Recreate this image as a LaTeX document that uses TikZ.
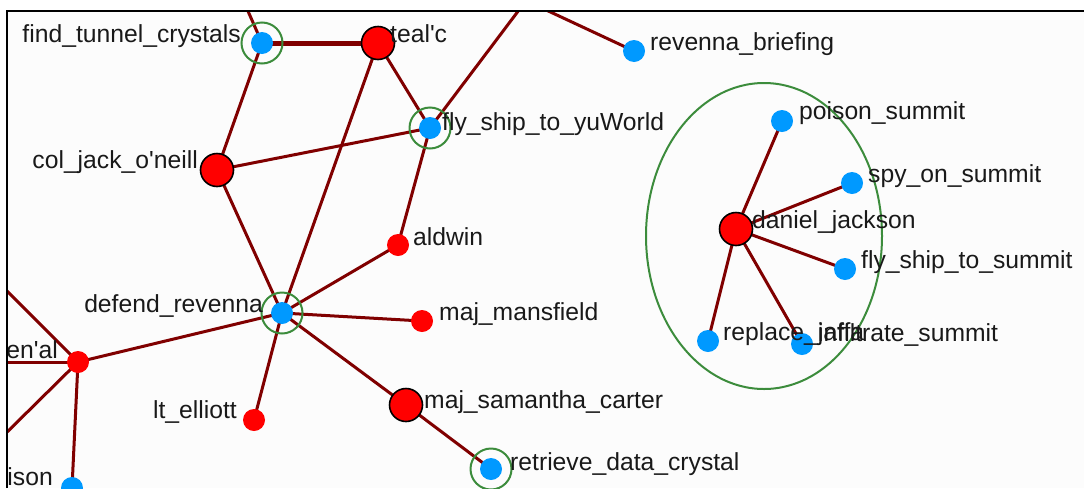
\documentclass[tikz,border=0pt]{standalone}
\usepackage{fontspec}
\setmainfont{Liberation Sans}
\usetikzlibrary{shapes.geometric,backgrounds}
\definecolor{edgecol}{RGB}{128,0,0}
\definecolor{nodeblue}{RGB}{0,153,255}
\definecolor{nodered}{RGB}{255,0,0}
\definecolor{ringgreen}{RGB}{60,140,60}
\definecolor{bgcol}{RGB}{252,252,252}
\newcommand{\q}{\textquotesingle}
\begin{document}
\begin{tikzpicture}[x=1pt,y=-1pt,
  edge/.style={draw=edgecol,line width=3pt},
  dbledge/.style={draw=edgecol,line width=5pt},
  bluenode/.style={circle,fill=nodeblue,inner sep=0pt,minimum size=22pt},
  smallred/.style={circle,fill=nodered,inner sep=0pt,minimum size=22pt},
  bigred/.style={circle,fill=nodered,draw=black,line width=1.6pt,inner sep=0pt,minimum size=33pt},
  ring/.style={circle,draw=ringgreen,line width=2pt,inner sep=0pt,minimum size=41pt},
  lbl/.style={inner sep=0pt,font=\fontsize{24.7}{26}\selectfont,text=black!90}
]
\useasboundingbox (0,0) rectangle (1084,488);
\begin{scope}
\clip (7,11) rectangle (1084,488);
% off-frame end points
\coordinate (top1) at (244,2);
\coordinate (top2) at (525,2);
\coordinate (top3) at (529,2);
\coordinate (left1) at (0,362);
\coordinate (left2) at (0,284);
\coordinate (left3) at (-2,441);
% nodes
\node[bluenode] (ftc) at (262,43) {};
\node[bigred] (teal) at (378,43) {};
\node[bluenode] (fly) at (430,128) {};
\node[bigred] (jack) at (217,170) {};
\node[smallred] (aldwin) at (398,245) {};
\node[bluenode] (defend) at (282,313) {};
\node[smallred] (mansfield) at (422,321) {};
\node[smallred] (enal) at (78,362) {};
\node[smallred] (elliott) at (254,420) {};
\node[bigred] (carter) at (406,405) {};
\node[bluenode] (retrieve) at (491,469) {};
\node[bluenode] (ison) at (72,488) {};
\node[bluenode] (rb) at (634,51) {};
\node[bluenode] (poison) at (782,121) {};
\node[bluenode] (spy) at (852,183) {};
\node[bigred] (daniel) at (736,229) {};
\node[bluenode] (flysum) at (845,269) {};
\node[bluenode] (replace) at (708,341) {};
\node[bluenode] (infil) at (802,344) {};
% selection rings
\node[ring] (ftcR) at (ftc) {};
\node[ring] (flyR) at (fly) {};
\node[ring] (defendR) at (defend) {};
\node[ring] (retrieveR) at (retrieve) {};
\node[ellipse,draw=ringgreen,line width=2pt,minimum width=236pt,minimum height=306pt,inner sep=0pt] (group) at (764,236) {};
% labels
\node[lbl,anchor=base east] (ftcL) at (241,42) {find\_tunnel\_crystals};
\node[lbl,anchor=base west] (tealL) at (390,42) {teal\q c};
\node[lbl,anchor=base west] (flyL) at (442,130) {fly\_ship\_to\_yuWorld};
\node[lbl,anchor=base east] (jackL) at (198,168) {col\_jack\_o\q neill};
\node[lbl,anchor=base west] (aldwinL) at (413,245) {aldwin};
\node[lbl,anchor=base east] (defendL) at (263,312) {defend\_revenna};
\node[lbl,anchor=base west] (mansfieldL) at (439,320) {maj\_mansfield};
\node[lbl,anchor=base east] (enalL) at (58,358) {en\q al};
\node[lbl,anchor=base east] (elliottL) at (237,418) {lt\_elliott};
\node[lbl,anchor=base west] (carterL) at (424,408) {maj\_samantha\_carter};
\node[lbl,anchor=base west] (retrieveL) at (510,470) {retrieve\_data\_crystal};
\node[lbl,anchor=base east] (isonL) at (53,485) {ison};
\node[lbl,anchor=base west] (rbL) at (650,50) {revenna\_briefing};
\node[lbl,anchor=base west] (poisonL) at (799,119) {poison\_summit};
\node[lbl,anchor=base west] (spyL) at (868,182) {spy\_on\_summit};
\node[lbl,anchor=base west] (danielL) at (752,228) {daniel\_jackson};
\node[lbl,anchor=base west] (flysumL) at (861,268) {fly\_ship\_to\_summit};
\node[lbl,anchor=base west] (replaceL) at (723,340) {replace\_jaffa};
\node[lbl,anchor=base west] (infilL) at (818,341) {infiltrate\_summit};
\end{scope}
\begin{pgfonlayer}{background}
\fill[white] (0,0) rectangle (1084,488);
\clip (7,11) rectangle (1084,488);
\fill[bgcol] (7,11) rectangle (1084,488);
\draw[dbledge] (ftc.center) -- (teal.center);
\draw[edge] (ftc.center) -- (top1);
\draw[edge] (ftc.center) -- (jack.center);
\draw[edge] (teal.center) -- (fly.center);
\draw[edge] (teal.center) -- (defend.center);
\draw[edge] (jack.center) -- (fly.center);
\draw[edge] (jack.center) -- (defend.center);
\draw[edge] (fly.center) -- (top2);
\draw[edge] (fly.center) -- (aldwin.center);
\draw[edge] (top3) -- (rb.center);
\draw[edge] (defend.center) -- (aldwin.center);
\draw[edge] (defend.center) -- (mansfield.center);
\draw[edge] (defend.center) -- (enal.center);
\draw[edge] (defend.center) -- (elliott.center);
\draw[edge] (defend.center) -- (carter.center);
\draw[edge] (carter.center) -- (retrieve.center);
\draw[edge] (enal.center) -- (left1);
\draw[edge] (enal.center) -- (left2);
\draw[edge] (enal.center) -- (left3);
\draw[edge] (enal.center) -- (ison.center);
\draw[edge] (daniel.center) -- (poison.center);
\draw[edge] (daniel.center) -- (spy.center);
\draw[edge] (daniel.center) -- (flysum.center);
\draw[edge] (daniel.center) -- (replace.center);
\draw[edge] (daniel.center) -- (infil.center);
\end{pgfonlayer}
% frame
\coordinate (fTL) at (7,11);
\coordinate (fTR) at (1084,11);
\coordinate (fBL) at (7,488);
\draw[black,line width=2pt] (fBL) -- (fTL) -- (fTR);
\end{tikzpicture}
\end{document}
